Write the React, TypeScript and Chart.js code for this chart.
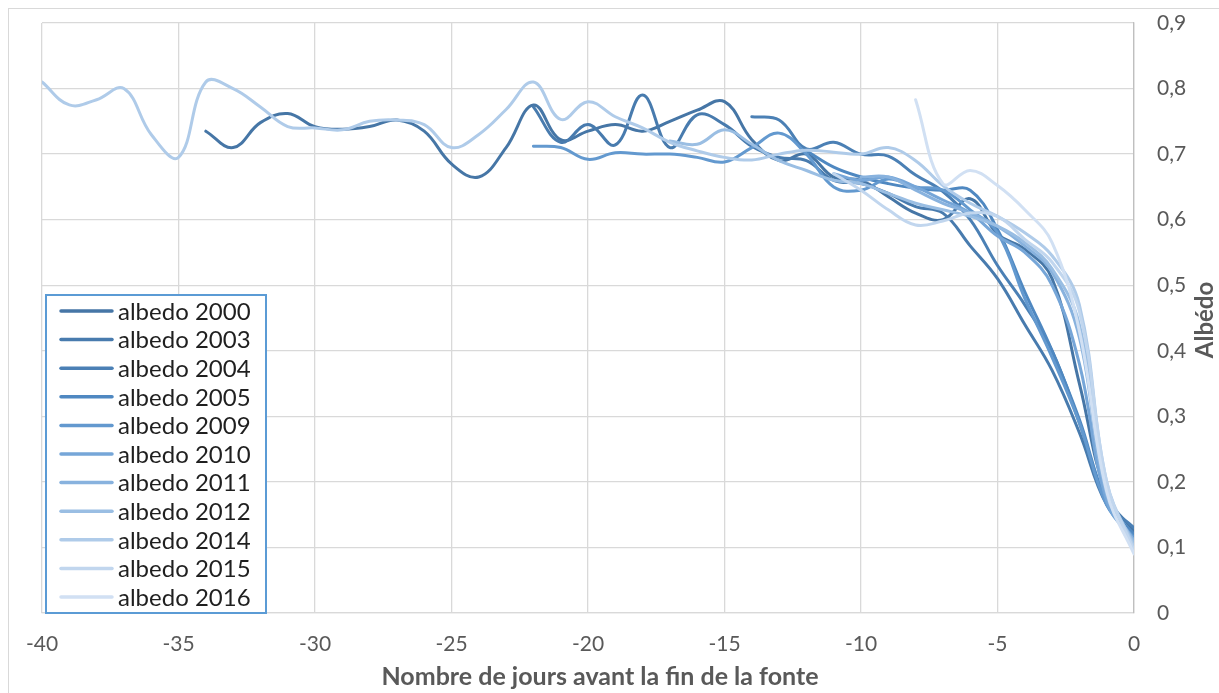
import React, { useEffect, useRef } from 'react';
import { Chart, registerables } from 'chart.js';

Chart.register(...registerables);

const FONT = 'Lato, "Open Sans", sans-serif';

// Series names and colours
const seriesNames = [
  'albedo 2000', 'albedo 2003', 'albedo 2004', 'albedo 2005', 'albedo 2009',
  'albedo 2010', 'albedo 2011', 'albedo 2012', 'albedo 2014', 'albedo 2015', 'albedo 2016',
];
const seriesColors = [
  '#4676A6', '#487BAE', '#4B80B5', '#4F88C1', '#6399CF',
  '#76A6D8', '#88B2DE', '#9ABEE3', '#AFCBE9', '#C1D6EE', '#D1E0F3',
];
// First day (days before end of melt) of each series
const seriesStarts = [-34, -22, -14, -12, -22, -11, -10, -17, -40, -11, -8];

// Albedo values, one per day from the start day up to day 0
const albedo2000 = [
  0.735, 0.71, 0.748, 0.762, 0.742, 0.738, 0.742, 0.752, 0.735, 0.685,
  0.665, 0.71, 0.775, 0.722, 0.735, 0.745, 0.735, 0.75, 0.767, 0.78,
  0.722, 0.69, 0.70, 0.665, 0.66, 0.635, 0.61, 0.60, 0.632, 0.578,
  0.555, 0.51, 0.35, 0.18, 0.125,
];
const albedo2003 = [
  0.772, 0.718, 0.745, 0.714, 0.79, 0.71, 0.76, 0.745, 0.712, 0.695,
  0.69, 0.66, 0.655, 0.64, 0.62, 0.61, 0.56, 0.51, 0.44, 0.37,
  0.275, 0.165, 0.12,
];
const albedo2004 = [
  0.757, 0.752, 0.708, 0.718, 0.70, 0.697, 0.668, 0.643, 0.60, 0.53,
  0.47, 0.40, 0.29, 0.17, 0.13,
];
const albedo2005 = [
  0.705, 0.68, 0.665, 0.655, 0.648, 0.645, 0.645, 0.585, 0.49, 0.40,
  0.295, 0.17, 0.12,
];
const albedo2009 = [
  0.712, 0.71, 0.692, 0.702, 0.70, 0.70, 0.695, 0.688, 0.71, 0.732,
  0.70, 0.65, 0.645, 0.662, 0.65, 0.645, 0.615, 0.58, 0.48, 0.39,
  0.29, 0.165, 0.115,
];
const albedo2010 = [
  0.67, 0.66, 0.665, 0.65, 0.63, 0.61, 0.575, 0.55, 0.50, 0.38, 0.17, 0.11,
];
const albedo2011 = [
  0.665, 0.665, 0.645, 0.625, 0.61, 0.59, 0.56, 0.52, 0.42, 0.18, 0.11,
];
const albedo2012 = [
  0.72, 0.715, 0.737, 0.715, 0.69, 0.675, 0.66, 0.655, 0.64, 0.625,
  0.615, 0.605, 0.59, 0.565, 0.525, 0.44, 0.19, 0.105,
];
const albedo2014 = [
  0.81, 0.775, 0.783, 0.80, 0.73, 0.695, 0.81, 0.80, 0.772, 0.742,
  0.74, 0.737, 0.75, 0.752, 0.745, 0.71, 0.73, 0.768, 0.81, 0.753,
  0.78, 0.757, 0.74, 0.718, 0.705, 0.695, 0.691, 0.70, 0.706, 0.703,
  0.70, 0.71, 0.69, 0.652, 0.625, 0.605, 0.58, 0.545, 0.47, 0.20,
  0.10,
];
const albedo2015 = [
  0.67, 0.645, 0.615, 0.592, 0.598, 0.61, 0.605, 0.57, 0.535, 0.46, 0.2, 0.095,
];
const albedo2016 = [
  0.783, 0.655, 0.675, 0.652, 0.615, 0.565, 0.43, 0.185, 0.09,
];

const seriesValues = [
  albedo2000, albedo2003, albedo2004, albedo2005, albedo2009,
  albedo2010, albedo2011, albedo2012, albedo2014, albedo2015, albedo2016,
];

const xTitle = 'Nombre de jours avant la fin de la fonte';
const yTitle = 'Albédo';

const legendPlugin = {
  id: 'insideLegend',
  afterDraw(chart: any) {
    const ctx = chart.ctx;
    const area = chart.chartArea;
    const boxL = 46, boxW = 220;
    const boxB = area.bottom;
    const boxT = 295;
    ctx.save();
    ctx.fillStyle = '#ffffff';
    ctx.fillRect(boxL, boxT, boxW, boxB - boxT);
    ctx.strokeStyle = '#5B9BD5';
    ctx.lineWidth = 2;
    ctx.strokeRect(boxL, boxT, boxW, boxB - boxT);
    const rowH = 28.6;
    chart.data.datasets.forEach((ds: any, i: number) => {
      const y = 311 + i * rowH;
      ctx.strokeStyle = ds.borderColor;
      ctx.lineWidth = 3.5;
      ctx.lineCap = 'round';
      ctx.beginPath();
      ctx.moveTo(61, y);
      ctx.lineTo(112, y);
      ctx.stroke();
      ctx.fillStyle = '#1f1f1f';
      ctx.font = `24px ${FONT}`;
      ctx.textBaseline = 'middle';
      ctx.textAlign = 'left';
      ctx.fillText(ds.label, 118, y + 1);
    });
    ctx.restore();
  },
};

const titlesPlugin = {
  id: 'axisTitles',
  afterDraw(chart: any) {
    const ctx = chart.ctx;
    ctx.save();
    ctx.fillStyle = '#595959';
    ctx.font = `bold 25px ${FONT}`;
    ctx.textAlign = 'center';
    ctx.textBaseline = 'middle';
    ctx.fillText(xTitle, 600, 677);
    ctx.translate(1205, 320);
    ctx.rotate(-Math.PI / 2);
    ctx.font = `bold 24px ${FONT}`;
    ctx.fillText(yTitle, 0, 0);
    ctx.restore();
  },
};

export default function App() {
  const canvasRef = useRef<HTMLCanvasElement | null>(null);

  useEffect(() => {
    if (!canvasRef.current) return;
    const n = seriesNames.length;
    const datasets = seriesNames.map((name, i) => ({
      label: name,
      data: seriesValues[i].map((v, k) => ({ x: seriesStarts[i] + k, y: v })),
      borderColor: seriesColors[i],
      backgroundColor: seriesColors[i],
      borderWidth: 3,
      pointRadius: 0,
      pointHoverRadius: 0,
      tension: 0.4,
      fill: false,
      borderCapStyle: 'round' as const,
      borderJoinStyle: 'round' as const,
      order: n - i,
    }));

    const chart = new Chart(canvasRef.current, {
      type: 'line',
      data: { datasets },
      plugins: [legendPlugin, titlesPlugin],
      options: {
        animation: false,
        responsive: false,
        devicePixelRatio: 1,
        layout: { padding: { left: 42, top: 23, right: 0, bottom: 0 } },
        plugins: {
          legend: { display: false },
          tooltip: { enabled: false },
        },
        scales: {
          x: {
            type: 'linear',
            min: -40,
            max: 0,
            ticks: {
              stepSize: 5,
              color: '#595959',
              font: { family: FONT, size: 21 },
              padding: 19,
              maxRotation: 0,
            },
            grid: { color: '#D9D9D9', drawTicks: false, lineWidth: 1.3 },
            border: { color: '#D9D9D9', width: 1.3 },
            afterFit: (s: any) => { s.height = 80; },
          },
          y: {
            position: 'right',
            min: 0,
            max: 0.9,
            ticks: {
              stepSize: 0.1,
              color: '#595959',
              font: { family: FONT, size: 21 },
              padding: 0,
              callback: (v: any) => (Number(v) === 0 ? '0' : Number(v).toFixed(1).replace('.', ',')),
            },
            grid: {
              color: '#D9D9D9',
              drawTicks: true,
              tickLength: 23,
              tickColor: 'rgba(0,0,0,0)',
              lineWidth: 1.3,
            },
            border: { color: '#BFBFBF', width: 1.3 },
            afterFit: (s: any) => { s.width = 85; },
          },
        },
      },
    });
    return () => chart.destroy();
  }, []);

  return (
    <div style={{ position: 'fixed', left: 0, top: 0, width: 1219, height: 693, overflow: 'hidden', background: '#fff' }}>
      <div style={{ position: 'absolute', left: 8, top: 8, width: 1240, height: 720, border: '1px solid #D9D9D9', boxSizing: 'border-box' }} />
      <canvas ref={canvasRef} width={1219} height={693} style={{ position: 'absolute', left: 0, top: 0 }} />
    </div>
  );
}
